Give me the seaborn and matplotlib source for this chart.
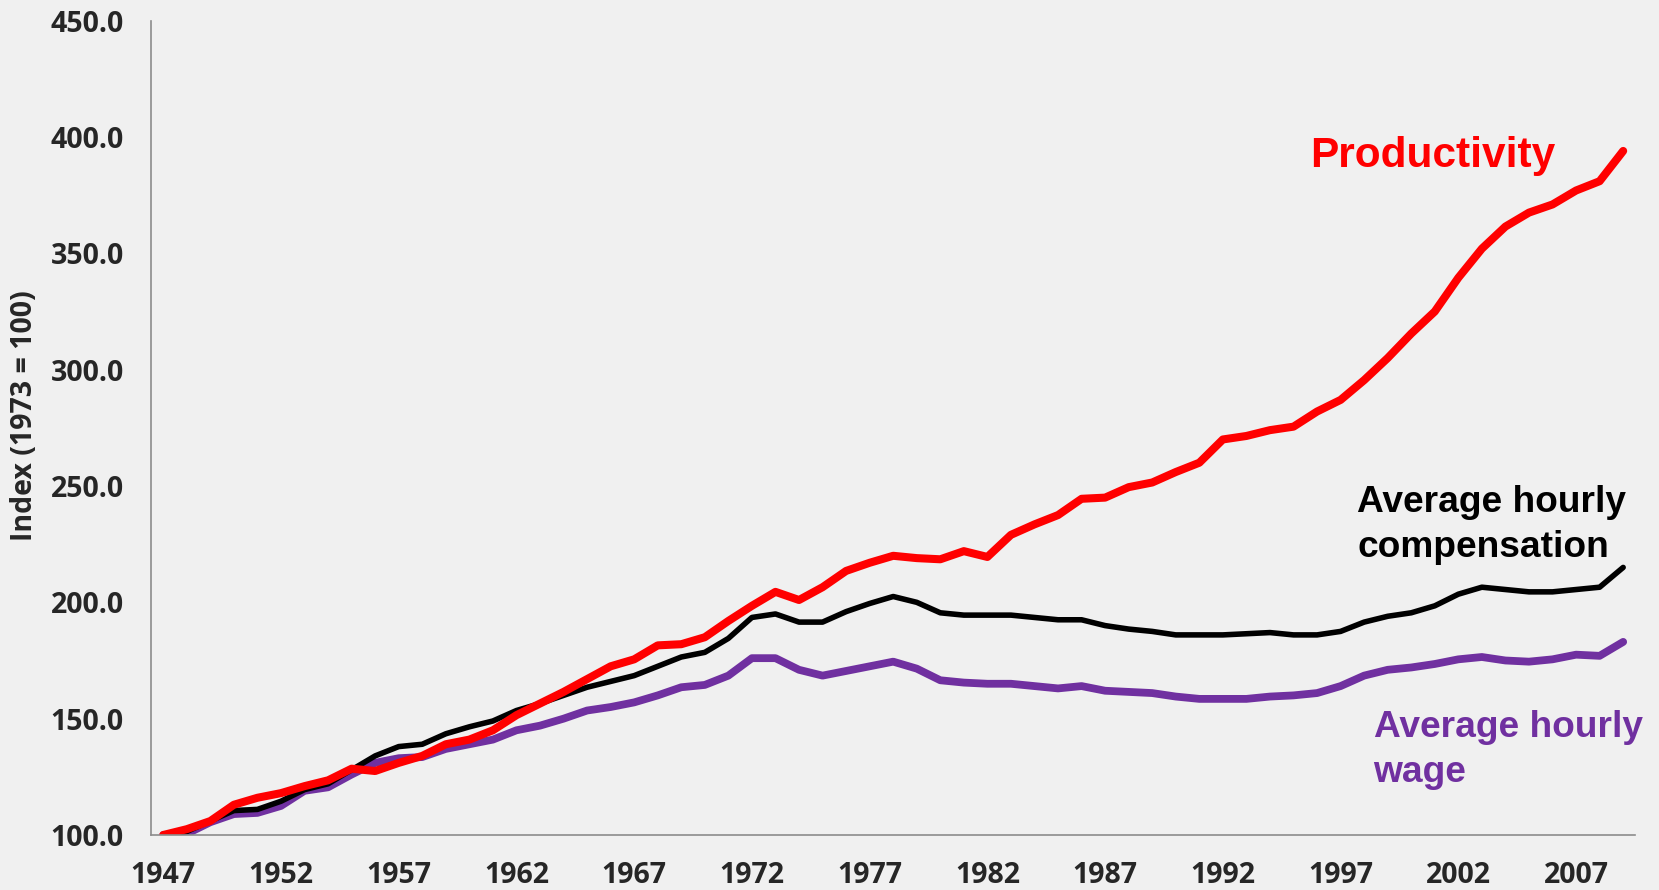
import matplotlib
matplotlib.use("Agg")
import matplotlib.pyplot as plt
import numpy as np
import pandas as pd
import seaborn as sns

years = list(range(1947, 2010))

productivity = [100, 102.5, 106, 113, 116, 118, 121, 123.5, 128.5, 127.5,
                131, 134, 139, 141, 145, 151.5, 156.5, 161.5, 167, 172.5,
                175.5, 181.5, 182, 185, 192, 198.5, 204.5, 201, 206.5, 213.5,
                217, 220, 219, 218.5, 222, 219.5, 229, 233.5, 237.5, 244.5,
                245, 249.5, 251.5, 256, 260, 270, 271.5, 274, 275.5, 282,
                287, 295.5, 305, 315.5, 325, 339.5, 352, 361.5, 367.5, 371,
                377, 381, 394]

compensation = [100, 101.5, 106, 110.5, 111, 114.5, 119.5, 122, 128, 134,
                138, 139, 143.5, 146.5, 149, 153.5, 156.5, 160, 163.5, 166,
                168.5, 172.5, 176.5, 178.5, 184.5, 193.5, 195, 191.5, 191.5, 196,
                199.5, 202.5, 200, 195.5, 194.5, 194.5, 194.5, 193.5, 192.5, 192.5,
                190, 188.5, 187.5, 186, 186, 186, 186.5, 187, 186, 186,
                187.5, 191.5, 194, 195.5, 198.5, 203.5, 206.5, 205.5, 204.5, 204.5,
                205.5, 206.5, 215]

wage = [100, 100.5, 105.5, 109, 109.5, 112.5, 119, 120.5, 126, 131,
        133, 133.5, 137, 139, 141, 145, 147, 150, 153.5, 155,
        157, 160, 163.5, 164.5, 168.5, 176, 176, 171, 168.5, 170.5,
        172.5, 174.5, 171.5, 166.5, 165.5, 165, 165, 164, 163, 164,
        162, 161.5, 161, 159.5, 158.5, 158.5, 158.5, 159.5, 160, 161,
        164, 168.5, 171, 172, 173.5, 175.5, 176.5, 175, 174.5, 175.5,
        177.5, 177, 183]

y_ticks = [100, 150, 200, 250, 300, 350, 400, 450]
x_labels = list(range(1947, 2010, 5))

df = pd.DataFrame({"year": years, "Productivity": productivity,
                   "Average hourly compensation": compensation,
                   "Average hourly wage": wage})

sns.set_style("white")
bg = "#f0f0f0"
plt.rcParams["font.family"] = ["Open Sans", "DejaVu Sans"]

fig = plt.figure(figsize=(16.59, 8.90), dpi=100, facecolor=bg)
ax = fig.add_axes([0.0913, 0.0618, 0.8942, 0.915])
ax.set_facecolor(bg)

# draw order: wage, compensation, productivity on top
sns.lineplot(data=df, x="year", y="Average hourly wage", color="#7030A0",
             linewidth=5.6, ax=ax, solid_capstyle="round", solid_joinstyle="round")
sns.lineplot(data=df, x="year", y="Average hourly compensation", color="black",
             linewidth=4.0, ax=ax, solid_capstyle="round", solid_joinstyle="round")
sns.lineplot(data=df, x="year", y="Productivity", color="#FF0000",
             linewidth=5.8, ax=ax, solid_capstyle="round", solid_joinstyle="round")

ax.set_xlim(years[0] - 0.5, years[-1] + 0.5)
ax.set_ylim(100, 450)

ax.set_yticks(y_ticks)
ax.set_yticklabels([f"{v:.1f}" for v in y_ticks], fontsize=20.5, fontweight="bold")
ax.set_xticks(x_labels)
ax.set_xticklabels([str(v) for v in x_labels], fontsize=20.5, fontweight="bold")
ax.set_xticks(np.arange(years[0] - 0.5, years[-1] + 1, 1.0), minor=True)

ax.tick_params(axis="x", which="major", length=0, pad=19)
ax.tick_params(axis="x", which="minor", direction="out", length=7, width=1.2, color="#8c8c8c")
ax.tick_params(axis="y", which="major", direction="out", length=7, width=1.2,
               color="#8c8c8c", pad=13)

for s in ["top", "right"]:
    ax.spines[s].set_visible(False)
for s in ["left", "bottom"]:
    ax.spines[s].set_color("#8c8c8c")
    ax.spines[s].set_linewidth(1.2)

ax.set_xlabel("")
ax.set_ylabel("")
fig.text(0.0145, 0.533, "Index (1973 = 100)", rotation=90, ha="center", va="center",
         fontsize=20.5, fontweight="bold")

lab = dict(family=["Liberation Sans", "DejaVu Sans"], fontweight="bold")
ax.text(1995.7, 387.2, "Productivity", color="#FF0000", fontsize=30.5, va="baseline", **lab)
ax.text(1997.7, 238.8, "Average hourly", color="black", fontsize=26.7, va="baseline", **lab)
ax.text(1997.7, 219.5, "compensation", color="black", fontsize=26.7, va="baseline", **lab)
ax.text(1998.4, 142.1, "Average hourly", color="#7030A0", fontsize=26.7, va="baseline", **lab)
ax.text(1998.4, 122.8, "wage", color="#7030A0", fontsize=26.7, va="baseline", **lab)

fig.savefig("out.png", dpi=100, facecolor=bg)
